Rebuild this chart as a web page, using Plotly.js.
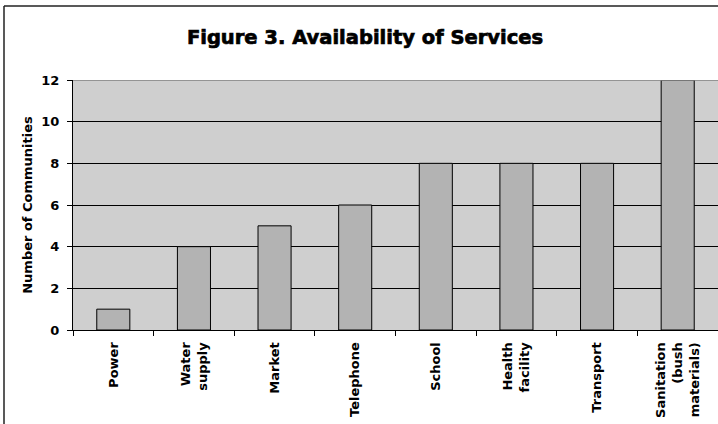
<!DOCTYPE html>
<html>
<head>
<meta charset="utf-8">
<script src="https://cdn.plot.ly/plotly-3.0.1.min.js"></script>
<style>
html,body{margin:0;padding:0;background:#fff;overflow:hidden;}
#chart{width:718px;height:424px;}
#chart .gtitle{stroke:#000;stroke-width:0.7px;}
</style>
</head>
<body>
<div id="chart"></div>
<script>
const categories = ["Power", "Water<br>supply", "Market", "Telephone", "School", "Health<br>facility", "Transport", "Sanitation<br>(bush<br>materials)"];
const communities = [1, 4, 5, 6, 8, 8, 8, 12];
const yTicks = [0, 2, 4, 6, 8, 10, 12];

const FONT = "DejaVu Sans, sans-serif";

const data = [{
  type: "bar",
  x: categories,
  y: communities,
  width: 0.41,
  marker: { color: "#b3b3b3", line: { color: "#000", width: 1 } },
  hoverinfo: "none"
}];

const frameTop = (330 - 6) / 250;
const frameLeft = (4 - 73) / 645;

const layout = {
  width: 718, height: 424,
  margin: { l: 73, r: 0, t: 80, b: 94, pad: 0 },
  paper_bgcolor: "#ffffff",
  plot_bgcolor: "#cfcfcf",
  showlegend: false,
  title: {
    text: "Figure 3. Availability of Services",
    font: { family: FONT, size: 19.5, weight: 700, color: "#000" },
    x: 365 / 718, xref: "container", xanchor: "center",
    y: 1 - 37 / 424, yanchor: "middle"
  },
  xaxis: {
    type: "category",
    tickangle: -90,
    tickson: "boundaries",
    ticks: "outside", ticklen: 5, tickcolor: "#000",
    ticklabelstandoff: 6,
    showline: true, linecolor: "#000", linewidth: 1,
    showgrid: false,
    tickfont: { family: FONT, size: 13, weight: 700, color: "#000" },
    automargin: false,
    range: [-0.5, 7.5]
  },
  yaxis: {
    range: [0, 12],
    tickvals: yTicks,
    ticktext: yTicks.map(String),
    ticks: "outside", ticklen: 5, tickcolor: "#000",
    ticklabelstandoff: 5,
    showline: true, linecolor: "#000", linewidth: 1,
    showgrid: true, gridcolor: "#000", gridwidth: 1,
    zeroline: false,
    tickfont: { family: FONT, size: 13, weight: 700, color: "#000" },
    title: { text: "Number of Communities", standoff: 5,
             font: { family: FONT, size: 13, weight: 700, color: "#000" } },
    automargin: false
  },
  shapes: [
    { type: "line", xref: "paper", yref: "y", x0: 0, x1: 1, y0: 12, y1: 12,
      line: { color: "#808080", width: 1.5 }, layer: "above" },
    { type: "line", xref: "paper", yref: "paper",
      x0: frameLeft, x1: 1.2, y0: frameTop, y1: frameTop,
      line: { color: "#222", width: 1.5 }, layer: "above" },
    { type: "line", xref: "paper", yref: "paper",
      x0: frameLeft, x1: frameLeft, y0: frameTop, y1: -0.5,
      line: { color: "#222", width: 1.5 }, layer: "above" }
  ]
};

Plotly.newPlot("chart", data, layout, { displayModeBar: false, staticPlot: true });
</script>
</body>
</html>
